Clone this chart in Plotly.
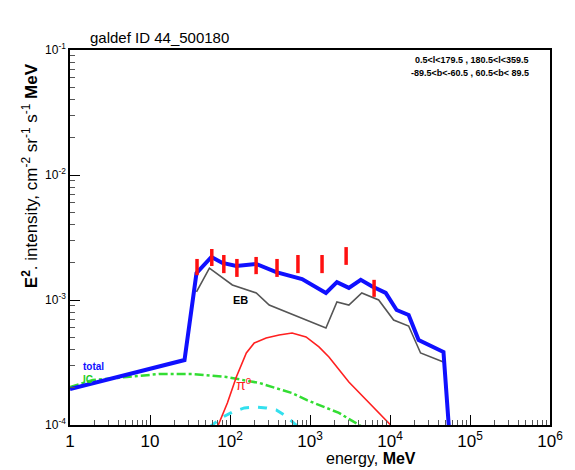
import plotly.graph_objects as go

# ---- data ----
total_E = [1, 27.0, 38.1, 58.6, 80.3, 120, 213, 378, 796, 1582, 2170, 3060, 4310, 5920, 8830, 12100, 17100, 22800, 46600, 58600]
total_I = [1.94e-4, 3.31e-4, 1.64e-3, 2.21e-3, 1.98e-3, 1.87e-3, 1.94e-3, 1.67e-3, 1.47e-3, 1.14e-3, 1.39e-3, 1.25e-3, 1.45e-3, 1.29e-3, 1.14e-3, 8.32e-4, 7.59e-4, 4.79e-4, 3.84e-4, 5e-5]

eb_E = [38.1, 55.3, 107, 213, 309, 730, 1582, 2170, 3060, 4440, 7220, 11100, 17100, 24100, 46600]
eb_I = [1.16e-3, 1.80e-3, 1.32e-3, 1.14e-3, 9.12e-4, 7.31e-4, 5.97e-4, 9.64e-4, 9.12e-4, 1.14e-3, 1.0e-3, 6.92e-4, 6.19e-4, 3.77e-4, 3.19e-4]

ic_E = [1, 1.93, 5.13, 13.2, 34.0, 90, 232, 597, 918, 2300, 5400]
ic_I = [2.01e-4, 2.29e-4, 2.42e-4, 2.56e-4, 2.56e-4, 2.42e-4, 2.17e-4, 1.80e-4, 1.58e-4, 1.25e-4, 9.0e-5]

pi0_E = [69.5, 92.7, 120, 160, 201, 283, 411, 597, 892, 1294, 1725, 3060, 10190]
pi0_I = [9.6e-5, 1.50e-4, 2.42e-4, 3.77e-4, 4.53e-4, 4.97e-4, 5.25e-4, 5.45e-4, 5.06e-4, 4.21e-4, 3.50e-4, 2.21e-4, 1.0e-4]

brem_E = [55.3, 78, 107, 151, 213, 283, 378, 502, 670, 730]
brem_I = [9.6e-5, 1.14e-4, 1.27e-4, 1.37e-4, 1.39e-4, 1.37e-4, 1.32e-4, 1.18e-4, 1.0e-4, 9.5e-5]

data_E = [38.7, 59.2, 83.7, 122, 212, 387, 707, 1414, 2828, 6325]
data_hi = [2.13e-3, 2.56e-3, 2.29e-3, 2.13e-3, 2.21e-3, 2.13e-3, 2.29e-3, 2.29e-3, 2.65e-3, 1.45e-3]
data_lo = [1.58e-3, 1.87e-3, 1.64e-3, 1.53e-3, 1.61e-3, 1.53e-3, 1.64e-3, 1.64e-3, 1.91e-3, 1.06e-3]

x_tickvals = [1, 10, 100, 1e3, 1e4, 1e5, 1e6]
x_ticktext = ["1", "10", "10<sup>2</sup>", "10<sup>3</sup>", "10<sup>4</sup>", "10<sup>5</sup>", "10<sup>6</sup>"]
y_tickvals = [1e-4, 1e-3, 1e-2, 1e-1]
y_ticktext = ["10<sup>-4</sup>", "10<sup>-3</sup>", "10<sup>-2</sup>", "10<sup>-1</sup>"]

FONT = "Liberation Sans, Arial, Helvetica, sans-serif"

fig = go.Figure()

fig.add_trace(go.Scatter(x=ic_E, y=ic_I, mode="lines",
                         line=dict(color="#33dd33", width=2.5, dash="dashdot")))
fig.add_trace(go.Scatter(x=brem_E, y=brem_I, mode="lines",
                         line=dict(color="#33e0ee", width=3, dash="dash")))
fig.add_trace(go.Scatter(x=pi0_E, y=pi0_I, mode="lines",
                         line=dict(color="#ff2020", width=1.6)))
fig.add_trace(go.Scatter(x=eb_E, y=eb_I, mode="lines",
                         line=dict(color="#555555", width=1.6)))
fig.add_trace(go.Scatter(x=total_E, y=total_I, mode="lines",
                         line=dict(color="#1010ff", width=4)))
fig.add_trace(go.Scatter(
    x=data_E, y=data_lo, mode="markers",
    marker=dict(size=1, color="rgba(0,0,0,0)"),
    error_y=dict(type="data", symmetric=False,
                 array=[h - l for h, l in zip(data_hi, data_lo)],
                 arrayminus=[0] * len(data_lo),
                 color="#ff1010", thickness=3.5, width=0)))

fig.update_layout(
    width=575, height=470, autosize=False,
    margin=dict(l=70, r=23, t=50, b=45),
    paper_bgcolor="white", plot_bgcolor="white",
    showlegend=False,
    font=dict(family=FONT, color="black"),
)

fig.update_xaxes(
    type="log", range=[0, 6],
    tickvals=x_tickvals, ticktext=x_ticktext,
    ticks="inside", ticklen=10, tickwidth=1, tickcolor="black",
    minor=dict(ticks="inside", ticklen=5, tickcolor="#555555", dtick="D1", showgrid=False),
    showgrid=False, zeroline=False,
    showline=True, linecolor="black", linewidth=1.5, mirror=True,
    tickfont=dict(size=17, family=FONT),
)
fig.update_yaxes(
    type="log", range=[-4, -1],
    tickvals=y_tickvals, ticktext=y_ticktext,
    ticks="inside", ticklen=10, tickwidth=1, tickcolor="black",
    minor=dict(ticks="inside", ticklen=5, tickcolor="#555555", dtick="D1", showgrid=False),
    showgrid=False, zeroline=False,
    showline=True, linecolor="black", linewidth=1.5, mirror=True,
    tickfont=dict(size=12, family=FONT),
)

annots = [
    dict(text="galdef ID 44_500180", x=88, y=37, xanchor="left", size=15, color="black"),
    dict(text="<b>0.5&lt;l&lt;179.5 , 180.5&lt;l&lt;359.5</b>", x=533, y=60, xanchor="right", size=9, color="black"),
    dict(text="<b>-89.5&lt;b&lt;-60.5 , 60.5&lt;b&lt; 89.5</b>", x=533, y=73, xanchor="right", size=9, color="black"),
    dict(text="<b>EB</b>", x=241, y=300, xanchor="center", size=11, color="black"),
    dict(text="<b>total</b>", x=94, y=366, xanchor="center", size=10, color="#1010ff"),
    dict(text="<b>IC</b>", x=88, y=379, xanchor="center", size=10, color="#22cc22"),
    dict(text="π<sup>0</sup>", x=245, y=384, xanchor="center", size=14, color="#ff2020"),
    dict(text="energy, <b>MeV</b>", x=372, y=458, xanchor="center", size=16, color="black"),
]
for a in annots:
    fig.add_annotation(
        text=a["text"], xref="paper", yref="paper",
        x=(a["x"] - 70) / (575 - 70 - 23), y=(470 - 45 - a["y"]) / (470 - 50 - 45),
        xanchor=a["xanchor"], yanchor="middle", showarrow=False,
        font=dict(size=a["size"], color=a["color"], family=FONT),
    )

fig.add_annotation(
    text="<b>E<sup>2</sup></b>. intensity, cm<sup>-2</sup> sr<sup>-1</sup> s<sup>-1</sup> <b>MeV</b>",
    xref="paper", yref="paper",
    x=(30 - 70) / (575 - 70 - 23), y=(470 - 45 - 176) / (470 - 50 - 45),
    xanchor="center", yanchor="middle", textangle=-90, showarrow=False,
    font=dict(size=17, color="black", family=FONT),
)

fig.write_html("out.html")
